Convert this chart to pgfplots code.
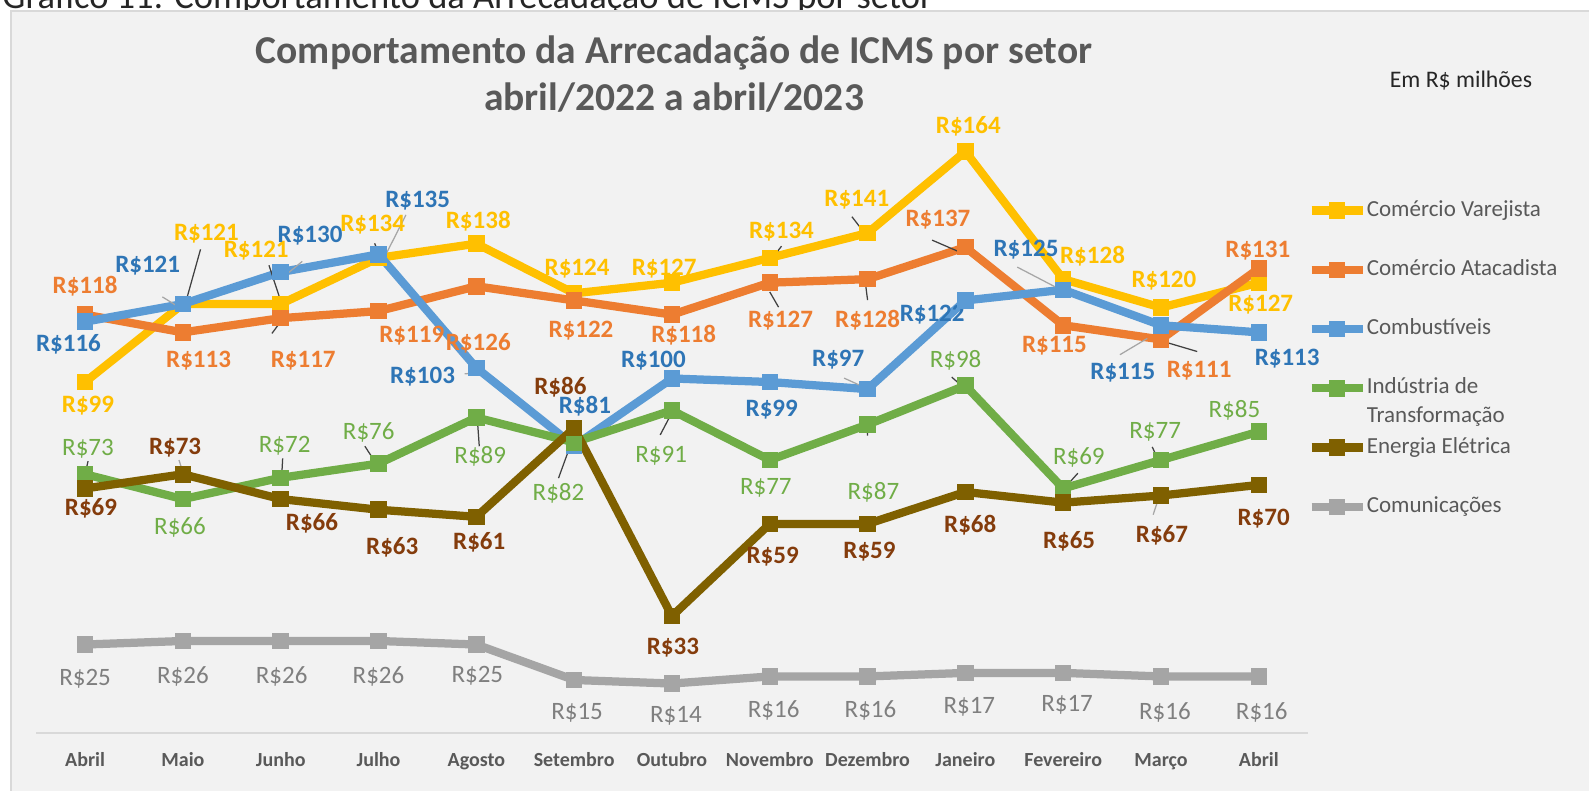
\documentclass[border=0pt]{standalone}
\usepackage{fontspec}
\setmainfont{Carlito}
\usepackage{pgfplots}
\pgfplotsset{compat=1.18}
\definecolor{bgc}{HTML}{F2F2F2}
\definecolor{borderc}{HTML}{D9D9D9}
\definecolor{capc}{HTML}{262626}
\definecolor{titc}{HTML}{595959}
\definecolor{emc}{HTML}{262626}
\definecolor{legc}{HTML}{595959}
\definecolor{tickc}{HTML}{595959}
\definecolor{axc}{HTML}{D9D9D9}
\definecolor{cVar}{HTML}{FFC000}
\definecolor{cAta}{HTML}{ED7D31}
\definecolor{cCom}{HTML}{5B9BD5}
\definecolor{cInd}{HTML}{70AD47}
\definecolor{cEne}{HTML}{7F6000}
\definecolor{cCmu}{HTML}{A5A5A5}
\definecolor{lVar}{HTML}{FFC000}
\definecolor{lAta}{HTML}{ED7D31}
\definecolor{lCom}{HTML}{2E75B6}
\definecolor{lInd}{HTML}{70AD47}
\definecolor{lEne}{HTML}{843C0C}
\definecolor{lCmu}{HTML}{7F7F7F}
\definecolor{ldkc}{HTML}{404040}
\definecolor{lgrc}{HTML}{A6A6A6}
\newcommand{\fs}[1]{\fontsize{#1}{#1}\selectfont}
\newcommand{\lb}[4]{\node[#1] at (axis cs:#2,#3) {R\$#4};}
\tikzset{
  ser/.style={color=#1, line width=3.3pt, line join=round, mark=square*, mark size=3.1pt,
     mark options={solid, line width=0pt, draw=#1, fill=#1}},
  tVar/.style={font=\bfseries\fs{10}, text=lVar, inner sep=0pt},
  tAta/.style={font=\bfseries\fs{10}, text=lAta, inner sep=0pt},
  tCom/.style={font=\bfseries\fs{10}, text=lCom, inner sep=0pt},
  tInd/.style={font=\fs{10}, text=lInd, inner sep=0pt},
  tEne/.style={font=\bfseries\fs{10}, text=lEne, inner sep=0pt},
  tCmu/.style={font=\fs{10}, text=lCmu, inner sep=0pt},
  ldk/.style={draw=ldkc, line width=0.5pt},
  lgr/.style={draw=lgrc, line width=0.5pt},
}
\begin{document}
\begin{tikzpicture}
\begin{scope}[x=0.4pt,y=-0.4pt]
\useasboundingbox (0,0) rectangle (1589,791);
\fill[white] (0,0) rectangle (1589,791);
\begin{scope}
\clip (0,0) rectangle (1589,10.5);
\node[anchor=base west, inner sep=0pt, font=\fs{14.6}, text=capc] at (2,9) {Gráfico 11: Comportamento da Arrecadação de ICMS por setor};
\end{scope}
\filldraw[fill=bgc, draw=borderc, line width=0.6pt] (11,11) rectangle (1595,797);
\node[font=\bfseries\fs{15.8}, text=titc] at (674,53) {Comportamento da Arrecadação de ICMS por setor};
\node[font=\bfseries\fs{15.8}, text=titc] at (674,98) {abril/2022 a abril/2023};
\node[font=\fs{9.5}, text=emc] at (1461,81) {Em R\$ milhões};
\end{scope}
\begin{axis}[
  at={(14.48pt,-293.28pt)}, anchor=south west,
  scale only axis, width=508.6pt, height=255.4pt,
  xmin=-0.5, xmax=12.5, ymin=0, ymax=180,
  hide y axis,
  axis x line*=bottom,
  x axis line style={-, draw=axc, line width=0.75pt},
  xtick={0,...,12},
  xticklabels={Abril,Maio,Junho,Julho,Agosto,Setembro,Outubro,Novembro,Dezembro,Janeiro,Fevereiro,Março,Abril},
  major tick length=0pt,
  xticklabel style={font=\bfseries\fs{8}, text=tickc, anchor=base, yshift=-13.2pt, inner sep=0pt},
  clip=false,
  legend cell align=left,
  legend style={at={(axis description cs:0.9995,0.836)}, anchor=north west, draw=none, fill=none,
     inner sep=0pt, row sep=15.2pt, column sep=0pt, font=\fs{9.2}, text=legc,
     nodes={inner sep=0pt, text height=6.5pt, text depth=2pt}},
  legend image code/.code={\draw[mark repeat=2,mark phase=2,#1] plot coordinates {(0pt,0pt) (10.2pt,0pt) (20.4pt,0pt)};},
]
\addplot[ser=cVar] coordinates {(0,99) (1,121) (2,121) (3,134) (4,138) (5,124) (6,127) (7,134) (8,141) (9,164) (10,128) (11,120) (12,127)};
\addlegendentry{Comércio Varejista}
\addplot[ser=cAta] coordinates {(0,118) (1,113) (2,117) (3,119) (4,126) (5,122) (6,118) (7,127) (8,128) (9,137) (10,115) (11,111) (12,131)};
\addlegendentry{Comércio Atacadista}
\addplot[ser=cCom] coordinates {(0,116) (1,121) (2,130) (3,135) (4,103) (5,81) (6,100) (7,99) (8,97) (9,122) (10,125) (11,115) (12,113)};
\addlegendentry{Combustíveis}
\addplot[ser=cInd] coordinates {(0,73) (1,66) (2,72) (3,76) (4,89) (5,82) (6,91) (7,77) (8,87) (9,98) (10,69) (11,77) (12,85)};
\addlegendentry{\makebox[0pt][l]{\raisebox{-11.4pt}[0pt][0pt]{Transformação}}Indústria de}
\addplot[ser=cEne] coordinates {(0,69) (1,73) (2,66) (3,63) (4,61) (5,86) (6,33) (7,59) (8,59) (9,68) (10,65) (11,67) (12,70)};
\addlegendentry{Energia Elétrica}
\addplot[ser=cCmu] coordinates {(0,25) (1,26) (2,26) (3,26) (4,25) (5,15) (6,14) (7,16) (8,16) (9,17) (10,17) (11,16) (12,16)};
\addlegendentry{Comunicações}
% leader lines
\draw[ldk] (axis cs:1.18,136.4) -- (axis cs:1.03,121.6);
\draw[lgr] (axis cs:0.79,123) -- (axis cs:0.96,120.1);
\draw[ldk] (axis cs:1.88,131.9) -- (axis cs:2.01,121.0);
\draw[lgr] (axis cs:2.22,133) -- (axis cs:2.07,129.6);
\draw[ldk] (axis cs:1.91,112.7) -- (axis cs:2.01,116.4);
\draw[ldk] (axis cs:2.96,138.1) -- (axis cs:3.05,131.9);
\draw[lgr] (axis cs:3.28,146.1) -- (axis cs:3.07,134.7);
\draw[lgr] (axis cs:3.88,101.3) -- (axis cs:4.0,101.6);
\draw[ldk] (axis cs:4.84,71.9) -- (axis cs:4.96,81);
\draw[ldk] (axis cs:5.88,84.1) -- (axis cs:6.0,90.4);
\draw[ldk] (axis cs:7.12,137.3) -- (axis cs:7.0,133);
\draw[ldk] (axis cs:7.0,124.4) -- (axis cs:7.09,120.1);
\draw[ldk] (axis cs:7.84,145.6) -- (axis cs:8.0,139.9);
\draw[ldk] (axis cs:8.0,122.1) -- (axis cs:7.98,126.4);
\draw[lgr] (axis cs:7.76,100.1) -- (axis cs:7.96,97.6);
\draw[ldk] (axis cs:8.0,83.9) -- (axis cs:7.99,87.3);
\draw[ldk] (axis cs:8.66,139) -- (axis cs:8.97,135.3);
\draw[ldk] (axis cs:8.86,100.4) -- (axis cs:9.0,97);
\draw[lgr] (axis cs:9.53,131.4) -- (axis cs:9.92,125.8);
\draw[ldk] (axis cs:10.15,73.3) -- (axis cs:9.99,68.4);
\draw[lgr] (axis cs:10.58,106.7) -- (axis cs:10.86,111.3);
\draw[ldk] (axis cs:11.37,107.6) -- (axis cs:10.99,110.7);
\draw[ldk] (axis cs:10.91,80.7) -- (axis cs:10.99,76.1);
\draw[lgr] (axis cs:10.92,61.6) -- (axis cs:10.97,65.8);
\draw[ldk] (axis cs:4.03,80.9) -- (axis cs:4.01,88.6);
\draw[ldk] (axis cs:0.03,76.7) -- (axis cs:0,73);
\draw[ldk] (axis cs:2.86,80.9) -- (axis cs:2.98,75.9);
\draw[ldk] (axis cs:2.02,77.5) -- (axis cs:2.01,72.5);
\draw[lgr] (axis cs:0.96,77) -- (axis cs:1.0,73.5);
% labels Varejista
\lb{tVar}{0.03}{92.4}{99}
\lb{tVar}{1.24}{140.7}{121}
\lb{tVar}{1.75}{136.1}{121}
\lb{tVar}{2.94}{143.3}{134}
\lb{tVar}{4.02}{144.4}{138}
\lb{tVar}{5.03}{131.0}{124}
\lb{tVar}{5.92}{131.0}{127}
\lb{tVar}{7.12}{141.3}{134}
\lb{tVar}{7.89}{150.4}{141}
\lb{tVar}{9.03}{171.0}{164}
\lb{tVar}{10.30}{134.5}{128}
\lb{tVar}{11.03}{127.6}{120}
\lb{tVar}{12.02}{120.7}{127}
% Atacadista
\lb{tAta}{0}{126.1}{118}
\lb{tAta}{1.16}{105.0}{113}
\lb{tAta}{2.23}{105.0}{117}
\lb{tAta}{3.34}{112.1}{119}
\lb{tAta}{4.02}{109.9}{126}
\lb{tAta}{5.07}{113.6}{122}
\lb{tAta}{6.12}{112.1}{118}
\lb{tAta}{7.11}{116.4}{127}
\lb{tAta}{8.0}{116.4}{128}
\lb{tAta}{8.72}{144.7}{137}
\lb{tAta}{9.91}{109.3}{115}
\lb{tAta}{11.39}{102.1}{111}
\lb{tAta}{11.99}{136.1}{131}
% Combustiveis
\lb{tCom}{-0.17}{109.6}{116}
\lb{tCom}{0.64}{131.9}{121}
\lb{tCom}{2.30}{140.4}{130}
\lb{tCom}{3.40}{150.1}{135}
\lb{tCom}{3.45}{100.4}{103}
\lb{tCom}{5.11}{92.1}{81}
\lb{tCom}{5.81}{105.0}{100}
\lb{tCom}{7.02}{91.3}{99}
\lb{tCom}{7.70}{105.3}{97}
\lb{tCom}{8.66}{117.9}{122}
\lb{tCom}{9.62}{136.2}{125}
\lb{tCom}{10.61}{101.6}{115}
\lb{tCom}{12.29}{105.6}{113}
% Industria
\lb{tInd}{0.03}{80.1}{73}
\lb{tInd}{0.97}{57.9}{66}
\lb{tInd}{2.04}{81.0}{72}
\lb{tInd}{2.90}{84.7}{76}
\lb{tInd}{4.04}{78.1}{89}
\lb{tInd}{4.84}{67.6}{82}
\lb{tInd}{5.89}{78.1}{91}
\lb{tInd}{6.96}{69.3}{77}
\lb{tInd}{8.06}{67.9}{87}
\lb{tInd}{8.90}{105.0}{98}
\lb{tInd}{10.16}{77.6}{69}
\lb{tInd}{10.94}{85.0}{77}
\lb{tInd}{11.75}{91.0}{85}
% Energia
\lb{tEne}{0.06}{63.3}{69}
\lb{tEne}{0.92}{80.4}{73}
\lb{tEne}{2.32}{59.3}{66}
\lb{tEne}{3.14}{52.4}{63}
\lb{tEne}{4.03}{53.9}{61}
\lb{tEne}{4.86}{97.6}{86}
\lb{tEne}{6.01}{24.1}{33}
\lb{tEne}{7.03}{49.9}{59}
\lb{tEne}{8.02}{51.3}{59}
\lb{tEne}{9.05}{58.7}{68}
\lb{tEne}{10.06}{54.1}{65}
\lb{tEne}{11.01}{55.9}{67}
\lb{tEne}{12.05}{60.4}{70}
% Comunicacoes
\lb{tCmu}{0}{15.3}{25}
\lb{tCmu}{1.0}{16.1}{26}
\lb{tCmu}{2.01}{16.1}{26}
\lb{tCmu}{3.0}{16.1}{26}
\lb{tCmu}{4.01}{16.1}{25}
\lb{tCmu}{5.03}{5.6}{15}
\lb{tCmu}{6.04}{5.0}{14}
\lb{tCmu}{7.04}{6.4}{16}
\lb{tCmu}{8.03}{6.4}{16}
\lb{tCmu}{9.04}{7.3}{17}
\lb{tCmu}{10.04}{7.9}{17}
\lb{tCmu}{11.04}{5.9}{16}
\lb{tCmu}{12.03}{5.9}{16}
\end{axis}
\end{tikzpicture}
\end{document}
